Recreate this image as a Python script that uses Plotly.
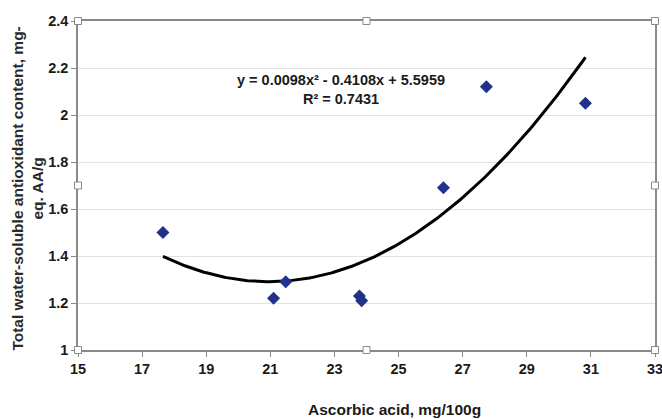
import numpy as np
import plotly.graph_objects as go

ascorbic = [17.65, 21.1, 21.48, 23.78, 23.85, 26.4, 27.74, 30.83]
antioxidant = [1.50, 1.22, 1.29, 1.23, 1.21, 1.69, 2.12, 2.05]
trend_coef = [0.0098, -0.4108, 5.5959]  # from the equation shown on the chart
x_ticks = [15, 17, 19, 21, 23, 25, 27, 29, 31, 33]
y_ticks = [1, 1.2, 1.4, 1.6, 1.8, 2, 2.2, 2.4]

xs = np.linspace(min(ascorbic), max(ascorbic), 200)
ys = np.polyval(trend_coef, xs)

fig = go.Figure()
fig.add_trace(go.Scatter(x=xs, y=ys, mode="lines",
                         line=dict(color="black", width=3), hoverinfo="skip"))
fig.add_trace(go.Scatter(x=ascorbic, y=antioxidant, mode="markers",
                         marker=dict(symbol="diamond", size=10, color="#22318A")))

font_main = "Liberation Sans, Arial, sans-serif"
tickfont = dict(size=14.5, family=font_main, color="#1a1a1a", weight="bold")
fig.update_layout(
    width=662, height=419,
    margin=dict(l=78, r=7, t=21, b=69),
    paper_bgcolor="white", plot_bgcolor="white",
    showlegend=False,
    font=dict(family=font_main, color="#1a1a1a"),
    xaxis=dict(range=[15, 33], tickvals=x_ticks, ticktext=[str(v) for v in x_ticks],
               showgrid=False, zeroline=False, showline=True, linecolor="#8a8a8a",
               linewidth=1.5, mirror=True, ticks="outside", ticklen=5, tickcolor="#8a8a8a",
               tickfont=tickfont, automargin=False, ticklabeloverflow="allow"),
    yaxis=dict(range=[1, 2.4], tickvals=y_ticks, ticktext=[f"{v:g}" for v in y_ticks],
               showgrid=True, gridcolor="#e2e2e2", gridwidth=1, zeroline=False,
               showline=True, linecolor="#8a8a8a", linewidth=1.5, mirror=True,
               ticks="outside", ticklen=5, tickcolor="#8a8a8a",
               tickfont=tickfont, automargin=False, ticklabeloverflow="allow"),
    annotations=[
        dict(x=0.455, y=0.793, xref="paper", yref="paper", yanchor="middle",
             text="<b>y = 0.0098x² - 0.4108x + 5.5959<br>R² = 0.7431</b>",
             showarrow=False, font=dict(size=14.5, color="#1a1a1a"), align="center"),
        dict(x=0.548, y=-0.182, xref="paper", yref="paper", yanchor="middle",
             text="<b>Ascorbic acid, mg/100g</b>",
             showarrow=False, font=dict(size=15.5, color="#1a1a1a")),
        dict(x=-0.087, y=0.49, xref="paper", yref="paper", xanchor="center", yanchor="middle",
             text="<b>Total water-soluble antioxidant content, mg-<br>eq. AA/g</b>",
             textangle=-90, showarrow=False, align="center",
             font=dict(size=15.5, color="#2a2a2a")),
    ],
)

shapes = []
for px, py in [(0, 0), (0.5, 0), (1, 0), (0, 0.5), (1, 0.5), (0, 1), (0.5, 1), (1, 1)]:
    shapes.append(dict(type="rect", xref="paper", yref="paper",
                       xsizemode="pixel", ysizemode="pixel", xanchor=px, yanchor=py,
                       x0=-3.5, x1=3.5, y0=-3.5, y1=3.5,
                       line=dict(color="#8a8a8a", width=1), fillcolor="white", layer="above"))
fig.update_layout(shapes=shapes)

fig.write_html("out.html", config={"displayModeBar": False},
               post_script="document.body.style.margin='0';document.body.style.overflow='hidden';")
